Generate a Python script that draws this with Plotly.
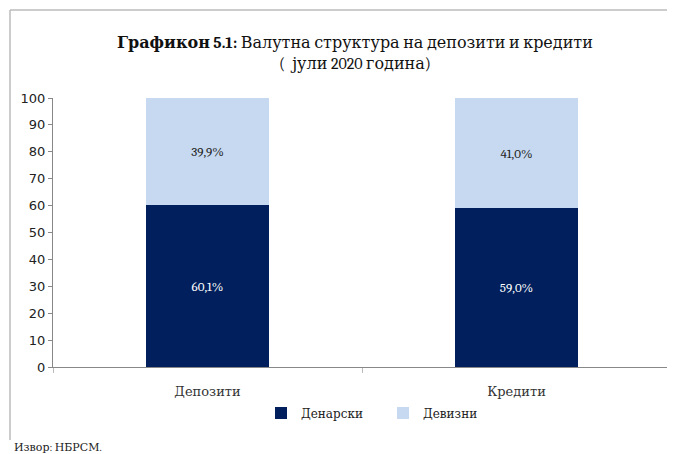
import plotly.graph_objects as go

categories = ["Депозити", "Кредити"]
denarski = [60.1, 59.0]
devizni = [39.9, 41.0]
denarski_labels = ["60,1%", "59,0%"]
devizni_labels = ["39,9%", "41,0%"]
y_ticks = [0, 10, 20, 30, 40, 50, 60, 70, 80, 90, 100]

serif = "Cambria, 'DejaVu Serif', serif"
sans = "Tahoma, 'DejaVu Sans', sans-serif"

# page body has an 8px margin, so the figure is laid out in page pixels minus 8
OFF = 8
W, H = 675 - OFF, 454 - OFF
L, R, T, B = 53 - OFF, 4, 98 - OFF, 87
pw, ph = W - L - R, H - T - B

def px_x(p):
    return (p - OFF - L) / pw

def px_y(p):
    return (H - B - (p - OFF)) / ph

fig = go.Figure()
fig.add_trace(go.Bar(
    x=categories, y=denarski, name="Денарски",
    marker=dict(color="#001F5C", line=dict(width=0)),
    text=denarski_labels, textposition="inside", insidetextanchor="middle",
    textfont=dict(color="white", size=13, family=serif),
))
fig.add_trace(go.Bar(
    x=categories, y=devizni, name="Девизни",
    marker=dict(color="#C6D9F1", line=dict(width=0)),
    text=devizni_labels, textposition="inside", insidetextanchor="middle",
    textfont=dict(color="#222222", size=13, family=serif),
))

fig.update_layout(
    width=W, height=H,
    barmode="stack", bargap=0.6,
    margin=dict(l=L, r=R, t=T, b=B),
    paper_bgcolor="white", plot_bgcolor="white",
    showlegend=True,
    uniformtext=dict(minsize=8, mode="show"),
    legend=dict(orientation="h", x=px_x(383), xanchor="center", y=px_y(413), yanchor="middle",
                font=dict(family=serif, size=12, color="#222"), traceorder="normal",
                itemwidth=30, entrywidthmode="pixels", entrywidth=77),
    xaxis=dict(showline=True, linecolor="#888", linewidth=1, ticks="outside",
               tickson="boundaries", ticklen=5, tickcolor="#bbb",
               ticklabelstandoff=12,
               tickfont=dict(family=serif, size=13, color="#333"),
               showgrid=False),
    yaxis=dict(range=[0, 100], tickvals=y_ticks, showline=True, linecolor="#888",
               linewidth=1, ticks="outside", ticklen=4, tickcolor="#888",
               tickfont=dict(family=sans, size=13, color="#222"), showgrid=False,
               zeroline=False),
    shapes=[
        dict(type="line", xref="paper", yref="paper", x0=px_x(10), x1=px_x(690),
             y0=px_y(10), y1=px_y(10), line=dict(color="#bbb", width=1.5)),
        dict(type="line", xref="paper", yref="paper", x0=px_x(10), x1=px_x(10),
             y0=px_y(10), y1=px_y(440), line=dict(color="#bbb", width=1.5)),
    ],
    annotations=[
        dict(text="<b>Графикон 5.1:</b> Валутна структура на депозити и кредити",
             xref="paper", yref="paper", x=px_x(355), y=px_y(43), xanchor="center",
             yanchor="middle", showarrow=False,
             font=dict(family=serif, size=16, color="#111")),
        dict(text="(  јули 2020 година)",
             xref="paper", yref="paper", x=px_x(355), y=px_y(64), xanchor="center",
             yanchor="middle", showarrow=False,
             font=dict(family=serif, size=16, color="#111")),
        dict(text="Извор: НБРСМ.",
             xref="paper", yref="paper", x=px_x(12), y=px_y(447), xanchor="left",
             yanchor="middle", showarrow=False,
             font=dict(family=serif, size=11, color="#222")),
    ],
)

fig.write_html("out.html")
